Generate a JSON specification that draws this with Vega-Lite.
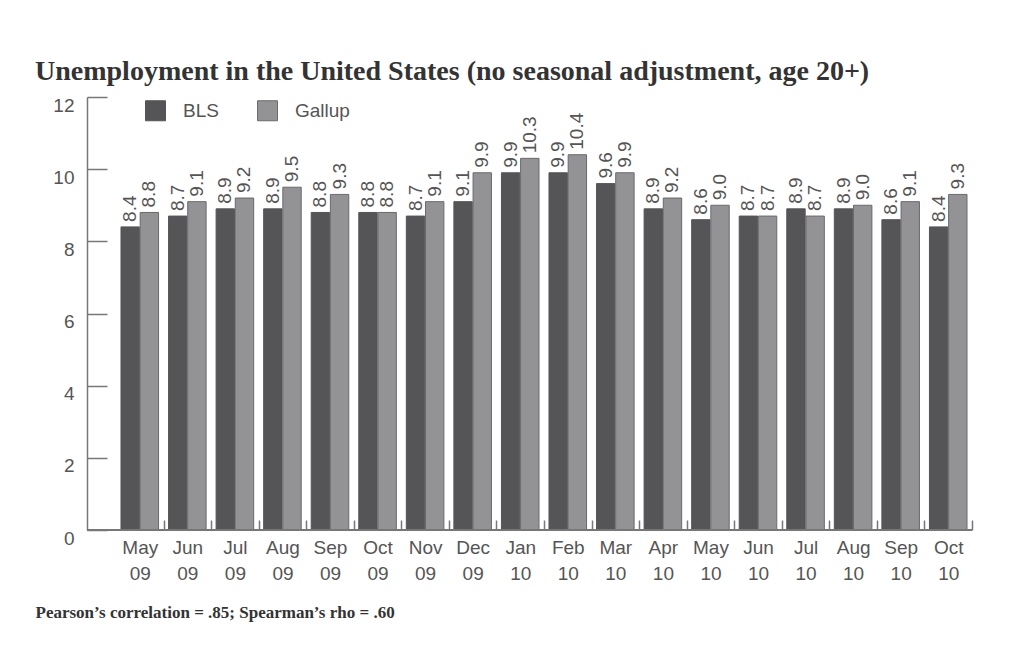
{
  "$schema": "https://vega.github.io/schema/vega-lite/v6.json",
  "width": 885,
  "height": 433,
  "autosize": {"type": "none"},
  "padding": {"left": 87, "top": 97, "right": 58, "bottom": 119},
  "background": "white",
  "title": {
    "text": "Unemployment in the United States (no seasonal adjustment, age 20+)",
    "anchor": "start",
    "frame": "group",
    "dx": -52,
    "offset": -12,
    "baseline": "alphabetic",
    "font": "Liberation Serif",
    "fontSize": 28,
    "fontWeight": "bold",
    "color": "#333333"
  },
  "data": {
    "values": [
      {"month": "May 09", "series": "BLS", "value": 8.4}, {"month": "May 09", "series": "Gallup", "value": 8.8},
      {"month": "Jun 09", "series": "BLS", "value": 8.7}, {"month": "Jun 09", "series": "Gallup", "value": 9.1},
      {"month": "Jul 09", "series": "BLS", "value": 8.9}, {"month": "Jul 09", "series": "Gallup", "value": 9.2},
      {"month": "Aug 09", "series": "BLS", "value": 8.9}, {"month": "Aug 09", "series": "Gallup", "value": 9.5},
      {"month": "Sep 09", "series": "BLS", "value": 8.8}, {"month": "Sep 09", "series": "Gallup", "value": 9.3},
      {"month": "Oct 09", "series": "BLS", "value": 8.8}, {"month": "Oct 09", "series": "Gallup", "value": 8.8},
      {"month": "Nov 09", "series": "BLS", "value": 8.7}, {"month": "Nov 09", "series": "Gallup", "value": 9.1},
      {"month": "Dec 09", "series": "BLS", "value": 9.1}, {"month": "Dec 09", "series": "Gallup", "value": 9.9},
      {"month": "Jan 10", "series": "BLS", "value": 9.9}, {"month": "Jan 10", "series": "Gallup", "value": 10.3},
      {"month": "Feb 10", "series": "BLS", "value": 9.9}, {"month": "Feb 10", "series": "Gallup", "value": 10.4},
      {"month": "Mar 10", "series": "BLS", "value": 9.6}, {"month": "Mar 10", "series": "Gallup", "value": 9.9},
      {"month": "Apr 10", "series": "BLS", "value": 8.9}, {"month": "Apr 10", "series": "Gallup", "value": 9.2},
      {"month": "May 10", "series": "BLS", "value": 8.6}, {"month": "May 10", "series": "Gallup", "value": 9.0},
      {"month": "Jun 10", "series": "BLS", "value": 8.7}, {"month": "Jun 10", "series": "Gallup", "value": 8.7},
      {"month": "Jul 10", "series": "BLS", "value": 8.9}, {"month": "Jul 10", "series": "Gallup", "value": 8.7},
      {"month": "Aug 10", "series": "BLS", "value": 8.9}, {"month": "Aug 10", "series": "Gallup", "value": 9.0},
      {"month": "Sep 10", "series": "BLS", "value": 8.6}, {"month": "Sep 10", "series": "Gallup", "value": 9.1},
      {"month": "Oct 10", "series": "BLS", "value": 8.4}, {"month": "Oct 10", "series": "Gallup", "value": 9.3}
    ]
  },
  "encoding": {
    "x": {
      "field": "month",
      "type": "nominal",
      "sort": null,
      "scale": {"range": [29, 885], "paddingInner": 0.21, "paddingOuter": 0.105},
      "axis": {
        "title": "Pearson\u2019s correlation = .85; Spearman\u2019s rho = .60",
        "titleFont": "Liberation Serif",
        "titleFontSize": 17,
        "titleFontWeight": "bold",
        "titleColor": "#333333",
        "titleAnchor": "start",
        "titleAlign": "left",
        "titleX": -52,
        "titleY": 87,
        "titleBaseline": "alphabetic",
        "domain": false,
        "ticks": true,
        "tickOffset": 23.78,
        "tickSize": -10,
        "tickWidth": 1.5,
        "tickColor": "#777777",
        "labelOffset": -23.78,
        "labelAngle": 0,
        "labelExpr": "split(datum.label, ' ')",
        "labelLineHeight": 26,
        "labelBaseline": "top",
        "labelPadding": 18,
        "labelFont": "Liberation Sans",
        "labelFontSize": 19,
        "labelColor": "#555555"
      }
    },
    "y": {
      "field": "value",
      "type": "quantitative",
      "scale": {"domain": [0, 12], "nice": false},
      "axis": {
        "title": null,
        "values": [0, 2, 4, 6, 8, 10, 12],
        "grid": false,
        "domainColor": "#777777",
        "domainWidth": 1.5,
        "tickColor": "#777777",
        "tickWidth": 1.5,
        "tickSize": -20,
        "labelPadding": 33,
        "labelOffset": 8,
        "labelFont": "Liberation Sans",
        "labelFontSize": 19,
        "labelColor": "#555555"
      }
    },
    "xOffset": {"field": "series", "type": "nominal", "scale": {"paddingInner": 0.04}}
  },
  "layer": [
    {
      "mark": {"type": "bar", "strokeWidth": 1},
      "encoding": {
        "color": {
          "field": "series",
          "type": "nominal",
          "scale": {"domain": ["BLS", "Gallup"], "range": ["#555557", "#939395"]},
          "legend": {
            "title": null,
            "orient": "none",
            "legendX": 58,
            "legendY": 3,
            "direction": "horizontal",
            "symbolType": "square",
            "symbolSize": 400,
            "symbolStrokeWidth": 1,
            "labelFont": "Liberation Sans",
            "labelFontSize": 19,
            "labelColor": "#555555",
            "labelOffset": 17,
            "columnPadding": 36
          }
        },
        "stroke": {
          "field": "series",
          "type": "nominal",
          "scale": {"domain": ["BLS", "Gallup"], "range": ["#555557", "#6a6a6c"]},
          "legend": null
        }
      }
    },
    {
      "mark": {"type": "rule", "color": "#777777", "strokeWidth": 1.5},
      "encoding": {"y": {"datum": 0}, "x": null, "xOffset": null}
    },
    {
      "mark": {
        "type": "text",
        "angle": 270,
        "align": "left",
        "baseline": "middle",
        "dx": 5,
        "font": "Liberation Sans",
        "fontSize": 19,
        "color": "#555555"
      },
      "encoding": {
        "text": {"field": "value", "type": "quantitative", "format": ".1f"}
      }
    }
  ],
  "config": {
    "view": {"stroke": null}
  }
}
